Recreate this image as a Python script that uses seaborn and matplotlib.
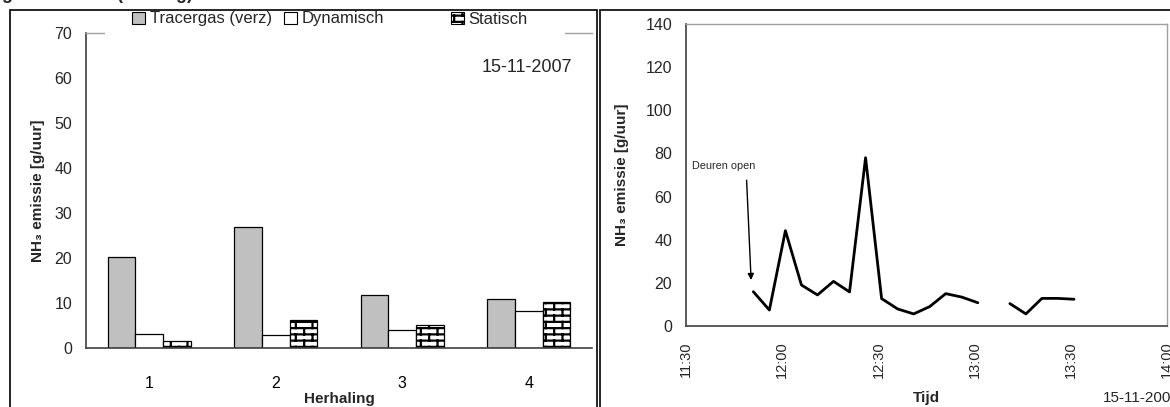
import warnings
warnings.filterwarnings('ignore')
import numpy as np
import pandas as pd
import matplotlib
matplotlib.use('Agg')
import matplotlib.pyplot as plt
import seaborn as sns
from matplotlib import hatch as mhatch
from matplotlib.path import Path
from matplotlib.patches import Rectangle, Patch

# ---------------- data ----------------
herhaling = ['1', '2', '3', '4']
tracergas = [20.2, 26.8, 11.8, 10.8]
dynamisch = [3.2, 2.9, 3.9, 8.3]
statisch = [1.6, 6.3, 5.2, 10.3]
series_names = ['Tracergas (verz)', 'Dynamisch', 'Statisch']

tijd = ['11:51', '11:56', '12:01', '12:06', '12:11', '12:16', '12:21', '12:26',
        '12:31', '12:36', '12:41', '12:46', '12:51', '12:56', '13:01', '13:06',
        '13:11', '13:16', '13:21', '13:26', '13:31']
emissie = [15.9, 7.4, 44.2, 19.0, 14.4, 20.7, 15.8, 78.0,
           12.7, 7.9, 5.6, 9.0, 15.0, 13.4, 10.8, np.nan,
           10.4, 5.6, 12.8, 12.8, 12.4]
tijd_ticks = ['11:30', '12:00', '12:30', '13:00', '13:30', '14:00']
datum = '15-11-2007'


# ---------------- brick hatch ----------------
class BrickHatch(mhatch.HatchPatternBase):
    def __init__(self, hatch, density):
        n = hatch.count('b')
        self.rows = 16 * n if n else 0
        self.cols = 6 * n if n else 0
        self.num_vertices = (self.rows * 2 + self.rows * self.cols * 2 + self.cols * 2) if n else 0

    def set_vertices_and_codes(self, vertices, codes):
        if self.num_vertices == 0:
            return
        k = 0
        R, C = self.rows, self.cols
        for r in range(R):
            y = (r + 0.5) / R
            vertices[k] = (0.0, y); vertices[k + 1] = (1.0, y)
            codes[k] = Path.MOVETO; codes[k + 1] = Path.LINETO
            k += 2
        for r in range(R):
            off = 0.5 if r % 2 else 0.0
            y0 = (r + 0.5) / R
            y1 = min((r + 1.5) / R, 1.0)
            for c in range(C):
                x = (c + off + 0.25) / C
                vertices[k] = (x, y0); vertices[k + 1] = (x, y1)
                codes[k] = Path.MOVETO; codes[k + 1] = Path.LINETO
                k += 2
        off = 0.5 if (R - 1) % 2 else 0.0
        for c in range(C):
            x = (c + off + 0.25) / C
            vertices[k] = (x, 0.0); vertices[k + 1] = (x, 0.5 / R)
            codes[k] = Path.MOVETO; codes[k + 1] = Path.LINETO
            k += 2


mhatch._hatch_types.append(BrickHatch)

# ---------------- style ----------------
sns.set_theme(style='white')
plt.rcParams['font.family'] = ['Liberation Sans', 'DejaVu Sans']
plt.rcParams['hatch.linewidth'] = 1.6
plt.rcParams['hatch.color'] = 'black'

TICK_FS = 11.5
ROT_FS = 10.5
LAB_FS = 11

W, H = 1170, 407
fig = plt.figure(figsize=(W / 100, H / 100), dpi=100)


def fx(px):
    return px / W


def fy(py):
    return 1 - py / H


# outer boxes
fig.add_artist(Rectangle((fx(10), -0.05), fx(597 - 10), fy(10) + 0.05,
                         transform=fig.transFigure, fill=False, edgecolor='black', lw=1.2))
fig.add_artist(Rectangle((fx(600), -0.05), fx(1175 - 600), fy(10) + 0.05,
                         transform=fig.transFigure, fill=False, edgecolor='black', lw=1.2))
fig.text(fx(2), fy(-1.2), 'gemeten stal (vervolg)', fontsize=13, fontweight='bold',
         va='baseline', ha='left')

axis_col = '#404040'
grey_spine = '#a0a0a0'

# ---------------- left: bar chart ----------------
ax1 = fig.add_axes([fx(86), fy(348), fx(592 - 86), fy(33) - fy(348)])
df = pd.DataFrame({
    'Herhaling': herhaling * 3,
    'Serie': [series_names[0]] * 4 + [series_names[1]] * 4 + [series_names[2]] * 4,
    'Waarde': tracergas + dynamisch + statisch,
})
colors = ['#c0c0c0', '#ffffff', '#ffffff']
sns.barplot(data=df, x='Herhaling', y='Waarde', hue='Serie', hue_order=series_names,
            palette=colors, edgecolor='black', linewidth=0.9, width=0.66, gap=0,
            saturation=1, legend=False, ax=ax1)
for bar in ax1.containers[2]:
    bar.set_hatch('b')
    bar.set_facecolor('white')

ax1.set_ylim(0, 70)
ax1.set_yticks(range(0, 71, 10))
ax1.set_xlim(-0.5, 3.5)
ax1.set_xticks(range(4))
ax1.set_xticklabels(herhaling)
ax1.set_xticks(np.arange(-0.5, 4.0, 1.0), minor=True)
ax1.tick_params(axis='x', which='major', length=0, labelsize=TICK_FS, pad=20, colors='black')
ax1.tick_params(axis='x', which='minor', length=5, width=1, direction='out', color=axis_col)
ax1.tick_params(axis='y', length=5, width=1, direction='out', labelsize=TICK_FS, color=axis_col, pad=5)
ax1.set_xlabel('Herhaling', fontsize=LAB_FS, fontweight='bold', labelpad=1)
ax1.set_ylabel('NH₃ emissie [g/uur]', fontsize=LAB_FS, fontweight='bold', labelpad=7)
for s in ['left', 'bottom']:
    ax1.spines[s].set_color(axis_col)
    ax1.spines[s].set_linewidth(1.2)
ax1.spines['top'].set_color(grey_spine)
ax1.spines['top'].set_linewidth(1.0)
ax1.spines['right'].set_visible(False)
ax1.text(0.96, 0.889, datum, transform=ax1.transAxes, ha='right', va='center', fontsize=13)

# white band hiding the plot-area border behind the legend
fig.add_artist(Rectangle((fx(105), fy(37)), fx(565 - 105), fy(29) - fy(37),
                         transform=fig.transFigure, facecolor='white', edgecolor='none',
                         zorder=5))

leg_x = [132, 284, 451]
for i in range(3):
    h = Patch(facecolor=colors[i], edgecolor='black', linewidth=0.8,
              hatch='b' if i == 2 else None)
    lg = fig.legend([h], [series_names[i]], loc='center left',
                    bbox_to_anchor=(fx(leg_x[i]), fy(19)), bbox_transform=fig.transFigure,
                    fontsize=12, frameon=False, handlelength=0.75, handleheight=0.75,
                    handletextpad=0.3, borderpad=0, borderaxespad=0)
    lg.set_zorder(10)

# ---------------- right: line chart ----------------
ax2 = fig.add_axes([fx(686), fy(326), fx(1167 - 686), fy(24) - fy(326)])


def to_min(t):
    h, m = t.split(':')
    return int(h) * 60 + int(m) - (11 * 60 + 30)


mins = [to_min(t) for t in tijd]
seg = []
s = 0
for v in emissie:
    if np.isnan(v):
        s += 1
    seg.append(s)
dl = pd.DataFrame({'t': mins, 'v': emissie, 'seg': seg}).dropna()
sns.lineplot(data=dl, x='t', y='v', units='seg', estimator=None, color='black',
             linewidth=2, ax=ax2)
ax2.set_xlim(0, 150)
ax2.set_ylim(0, 140)
ax2.set_xticks([to_min(t) for t in tijd_ticks])
ax2.set_xticklabels(tijd_ticks, rotation=90, fontsize=ROT_FS)
ax2.set_yticks(range(0, 141, 20))
ax2.tick_params(axis='both', length=5, width=1, direction='out', color=axis_col,
                labelsize=TICK_FS, pad=5)
ax2.tick_params(axis='x', labelsize=ROT_FS, pad=6)
ax2.set_xlabel('Tijd', fontsize=LAB_FS, fontweight='bold', labelpad=9)
ax2.set_ylabel('NH₃ emissie [g/uur]', fontsize=LAB_FS, fontweight='bold', labelpad=12)
for s_ in ['left', 'bottom']:
    ax2.spines[s_].set_color(axis_col)
    ax2.spines[s_].set_linewidth(1.2)
for s_ in ['top', 'right']:
    ax2.spines[s_].set_color(grey_spine)
    ax2.spines[s_].set_linewidth(1.0)
ax2.annotate('', xy=(20.3, 21.3), xytext=(18.9, 67.6),
             arrowprops=dict(arrowstyle='-|>', color='black', lw=1.0, mutation_scale=9,
                             shrinkA=0, shrinkB=0))
ax2.text(2.0, 74.0, 'Deuren open', fontsize=7.8, ha='left', va='center')
fig.text(fx(1103), fy(398), datum, fontsize=11, ha='left', va='center')

fig.savefig('out.png', dpi=100)
